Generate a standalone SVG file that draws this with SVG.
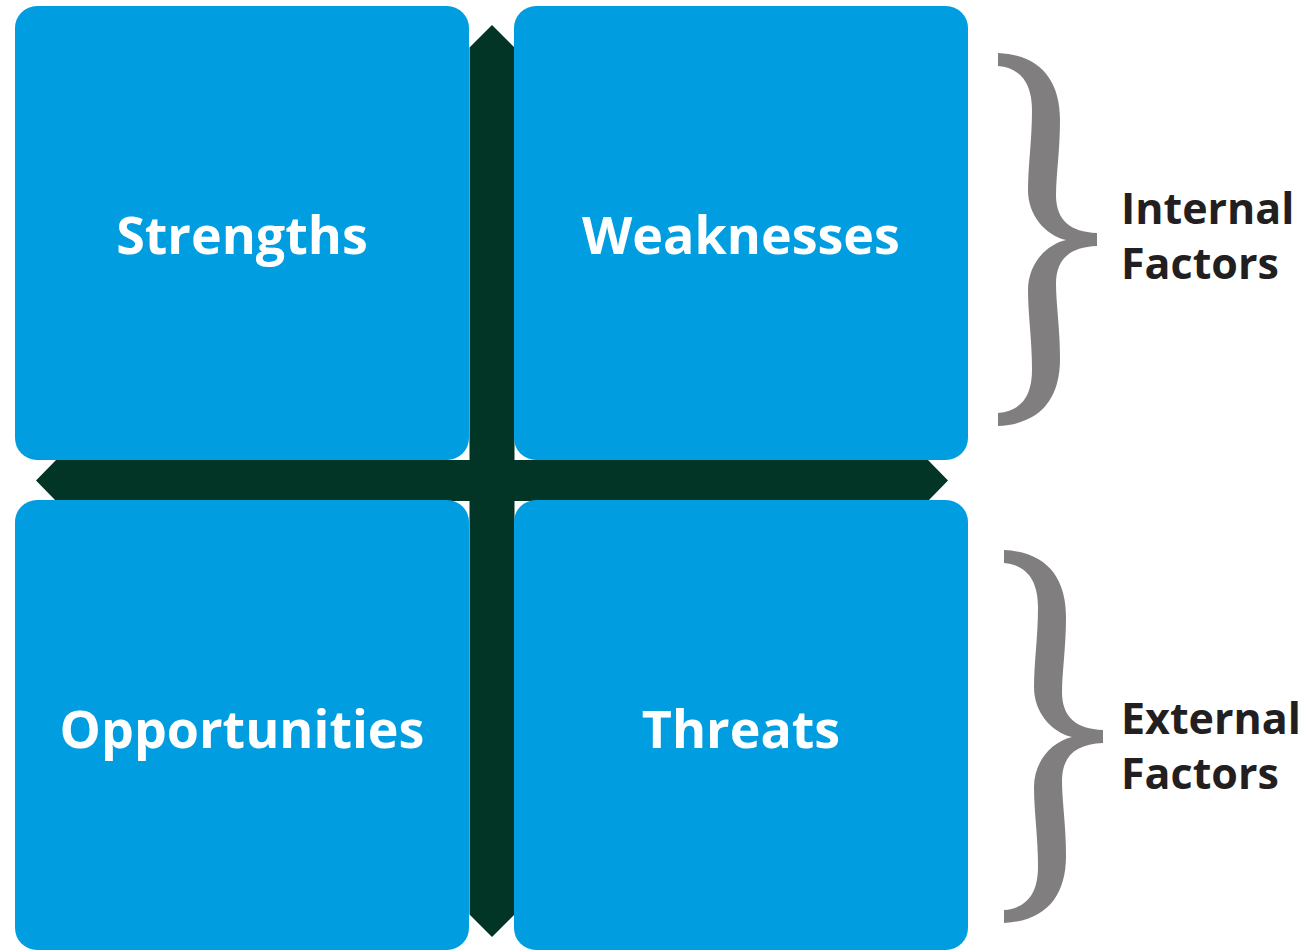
<svg xmlns="http://www.w3.org/2000/svg" width="1309" height="950" viewBox="0 0 1309 950">
  <defs>
    <style>
      .box { fill: #009ee0; }
      .cross { fill: #033527; }
      .brace { fill: #807e7f; }
      .lbl { font-family: "Open Sans", "Liberation Sans", sans-serif; font-weight: 700; font-size: 52px; fill: #ffffff; text-anchor: middle; }
      .side { font-family: "Open Sans", "Liberation Sans", sans-serif; font-weight: 700; font-size: 43px; fill: #231f20; }
    </style>
    <path id="bracePath" d="M998,53 C1040,55 1060,80 1060,120 C1060,150 1056,175 1056,195 C1056,220 1070,232 1097,233 L1097,246 C1070,247 1056,259 1056,284 C1056,304 1060,329 1060,359 C1060,399 1040,424 998,426 L998,413 C1022,411 1032,395 1032,370 C1032,340 1028,315 1028,290 C1028,265 1045,245 1066,240 C1045,235 1028,215 1028,190 C1028,165 1032,140 1032,110 C1032,85 1022,68 998,66 Z"/>
  </defs>

  <g id="cross">
    <path class="cross" d="M492,25 L514.5,47.5 L514.5,460 L928,460 L948,480.5 L928,501 L514.5,501 L514.5,914.5 L492,937 L469.5,914.5 L469.5,501 L56,501 L36,480.5 L56,460 L469.5,460 L469.5,47.5 Z"/>
  </g>

  <g id="connectors"></g>

  <g id="strengths">
    <rect class="box" x="15" y="6" width="454" height="454" rx="22" ry="22"/>
    <text class="lbl" x="242" y="254">Strengths</text>
  </g>
  <g id="weaknesses">
    <rect class="box" x="514" y="6" width="454" height="454" rx="22" ry="22"/>
    <text class="lbl" x="741" y="254">Weaknesses</text>
  </g>
  <g id="opportunities">
    <rect class="box" x="15" y="500" width="454" height="450" rx="22" ry="22"/>
    <text class="lbl" x="242" y="748">Opportunities</text>
  </g>
  <g id="threats">
    <rect class="box" x="514" y="500" width="454" height="450" rx="22" ry="22"/>
    <text class="lbl" x="741" y="748">Threats</text>
  </g>

  <g id="internal-factors">
    <use href="#bracePath" class="brace"/>
    <text class="side" x="1121" y="224">Internal</text>
    <text class="side" x="1121" y="279">Factors</text>
  </g>
  <g id="external-factors">
    <use href="#bracePath" class="brace" transform="translate(6,497)"/>
    <text class="side" x="1121" y="734">External</text>
    <text class="side" x="1121" y="789">Factors</text>
  </g>
</svg>
